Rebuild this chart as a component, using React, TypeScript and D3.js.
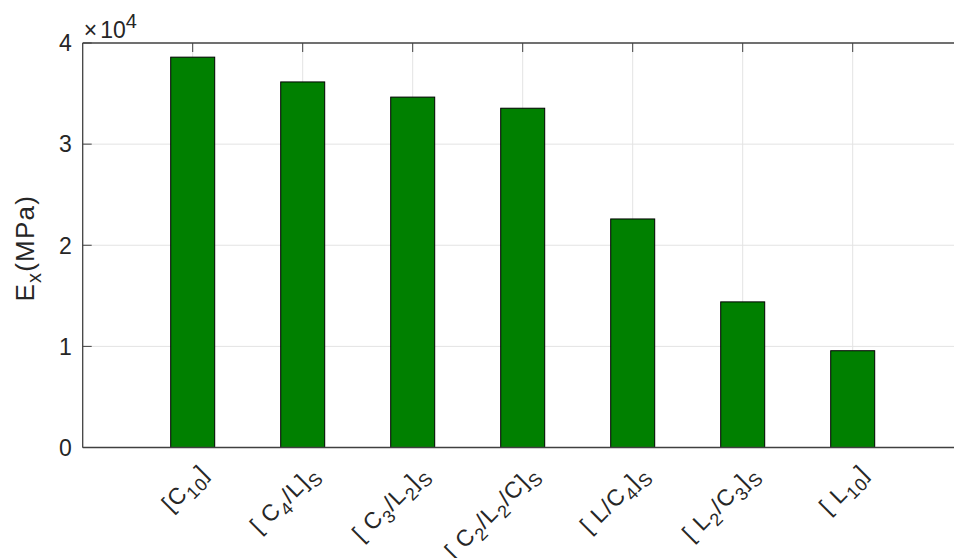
import React, { useEffect, useRef } from "react";
import * as d3 from "d3";

// label parts: [text, isSubscript]
type Part = [string, boolean];

const categories: Part[][] = [
  [["[C", false], ["10", true], ["]", false]],
  [["[ C", false], ["4", true], ["/L]", false], ["S", true]],
  [["[ C", false], ["3", true], ["/L", false], ["2", true], ["]", false], ["S", true]],
  [["[ C", false], ["2", true], ["/L", false], ["2", true], ["/C]", false], ["S", true]],
  [["[ L/C", false], ["4", true], ["]", false], ["S", true]],
  [["[ L", false], ["2", true], ["/C", false], ["3", true], ["]", false], ["S", true]],
  [["[ L", false], ["10", true], ["]", false]],
];

const modulus = [38600, 36150, 34650, 33550, 22600, 14400, 9570];

const yTicks = [0, 1, 2, 3, 4];

const App = () => {
  const svgRef = useRef<SVGSVGElement>(null);

  useEffect(() => {
    const width = 954;
    const height = 558;
    const margin = { top: 43, left: 82.7, bottom: 110.5 };
    const innerH = height - margin.top - margin.bottom;
    const font = "Liberation Sans, Arial, Helvetica, sans-serif";
    const textColor = "#262626";

    const svg = d3.select(svgRef.current);
    svg.selectAll("*").remove();
    svg.attr("width", width).attr("height", height);

    // axes extend past the right edge of the picture
    const x = d3.scaleLinear().domain([0, 8]).range([margin.left, margin.left + 880]);
    const y = d3.scaleLinear().domain([0, 40000]).range([margin.top + innerH, margin.top]);

    const g = svg.append("g");

    // grid
    g.selectAll("line.hgrid")
      .data(yTicks.slice(1, 4))
      .join("line")
      .attr("x1", margin.left)
      .attr("x2", width)
      .attr("y1", (d) => y(d * 10000))
      .attr("y2", (d) => y(d * 10000))
      .attr("stroke", "#e3e3e3")
      .attr("stroke-width", 1);

    g.selectAll("line.vgrid")
      .data(categories)
      .join("line")
      .attr("x1", (_, i) => x(i + 1))
      .attr("x2", (_, i) => x(i + 1))
      .attr("y1", y(0))
      .attr("y2", y(40000))
      .attr("stroke", "#e3e3e3")
      .attr("stroke-width", 1);

    // bars
    g.selectAll("rect.bar")
      .data(modulus)
      .join("rect")
      .attr("x", (_, i) => x(i + 1 - 0.2))
      .attr("width", x(0.4) - x(0))
      .attr("y", (d) => y(d))
      .attr("height", (d) => y(0) - y(d))
      .attr("fill", "#008000")
      .attr("stroke", "#000")
      .attr("stroke-width", 1);

    // axis lines
    const axisColor = "#404040";
    g.append("line")
      .attr("x1", margin.left).attr("x2", width)
      .attr("y1", y(0)).attr("y2", y(0))
      .attr("stroke", axisColor).attr("stroke-width", 1.3);
    g.append("line")
      .attr("x1", margin.left).attr("x2", width)
      .attr("y1", y(40000)).attr("y2", y(40000))
      .attr("stroke", axisColor).attr("stroke-width", 1.3);
    g.append("line")
      .attr("x1", margin.left).attr("x2", margin.left)
      .attr("y1", y(0)).attr("y2", y(40000))
      .attr("stroke", axisColor).attr("stroke-width", 1.3);

    // ticks (inward)
    const tl = 9;
    g.selectAll("line.ytick")
      .data(yTicks)
      .join("line")
      .attr("x1", margin.left)
      .attr("x2", margin.left + tl)
      .attr("y1", (d) => y(d * 10000))
      .attr("y2", (d) => y(d * 10000))
      .attr("stroke", axisColor);
    g.selectAll("line.xtick")
      .data(categories)
      .join("line")
      .attr("x1", (_, i) => x(i + 1))
      .attr("x2", (_, i) => x(i + 1))
      .attr("y1", y(40000))
      .attr("y2", y(40000) + tl)
      .attr("stroke", axisColor);

    // y tick labels
    g.selectAll("text.ylab")
      .data(yTicks)
      .join("text")
      .attr("x", margin.left - 11)
      .attr("y", (d) => y(d * 10000))
      .attr("dy", "0.36em")
      .attr("text-anchor", "end")
      .attr("font-family", font)
      .attr("font-size", 23)
      .attr("fill", textColor)
      .text((d) => d);

    // exponent
    const ex = g.append("text")
      .attr("x", margin.left + 1)
      .attr("y", 37.5)
      .attr("font-family", font)
      .attr("font-size", 23)
      .attr("fill", textColor);
    ex.append("tspan").attr("font-weight", 300).text("\u00d7");
    ex.append("tspan").attr("dx", 3).text("10");
    ex.append("tspan").attr("dy", -9.5).attr("font-size", 20).text("4");

    // x tick labels, rotated 45deg
    categories.forEach((parts, i) => {
      const t = g.append("text")
        .attr("transform", `translate(${x(i + 1) + 17},${y(0) + 27}) rotate(-45)`)
        .attr("text-anchor", "end")
        .attr("font-family", font)
        .attr("font-size", 23)
        .attr("letter-spacing", 1)
        .attr("fill", textColor);
      let down = false;
      parts.forEach(([s, sub]) => {
        const ts = t.append("tspan").text(s);
        if (sub && !down) { ts.attr("dy", 7).attr("font-size", 18); down = true; }
        else if (sub) ts.attr("font-size", 18);
        else if (down) { ts.attr("dy", -7); down = false; }
      });
      if (down) t.append("tspan").attr("dy", -7).text("");
    });

    // y label
    const yl = g.append("text")
      .attr("transform", `translate(34,${margin.top + innerH / 2 + 3}) rotate(-90)`)
      .attr("text-anchor", "middle")
      .attr("font-family", font)
      .attr("font-size", 26)
      .attr("letter-spacing", 1.2)
      .attr("fill", textColor);
    yl.append("tspan").text("E");
    yl.append("tspan").attr("dy", 7).attr("font-size", 20).text("x");
    yl.append("tspan").attr("dy", -7).text("(MPa)");
  }, []);

  return (
    <div style={{ width: 954, height: 558, overflow: "hidden", position: "absolute", left: 0, top: 0, background: "#fff" }}>
      <svg ref={svgRef} style={{ display: "block" }}></svg>
    </div>
  );
};

export default App;
